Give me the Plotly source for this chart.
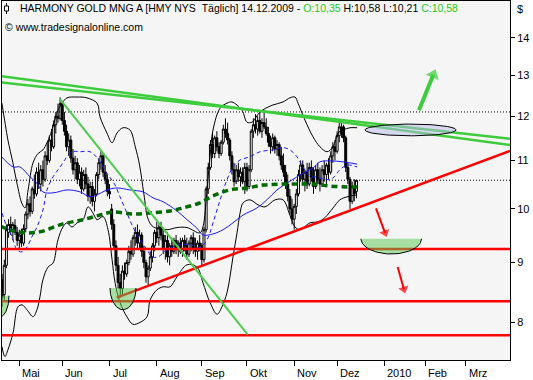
import numpy as np
import plotly.graph_objects as go

# ---------------- data (trading-day index, 0 = 1 May 2009) ----------------
day = list(range(-8, 158))

opn = [8.70, 8.45, 8.95, 9.55, 9.70, 9.60, 9.68, 9.55, 9.40, 9.50,
       9.35, 9.62, 9.90, 10.10, 9.95, 10.40, 10.30, 10.75, 10.50, 10.80,
       10.60, 11.10, 11.00, 11.45, 11.30, 11.80, 12.00, 11.95, 12.30, 11.90,
       11.65, 11.30, 11.45, 11.05, 10.80, 10.95, 10.60, 10.75, 10.40, 10.70,
       10.50, 10.25, 10.45, 10.15, 10.30, 10.70, 10.95, 11.10, 10.75, 10.60,
       10.35, 10.00, 9.70, 9.30, 8.95, 8.65, 8.55, 8.85, 8.80, 9.00,
       9.20, 9.15, 9.45, 9.55, 9.35, 9.50, 9.20, 9.00, 8.75, 8.90,
       9.10, 9.30, 9.55, 9.45, 9.65, 9.50, 9.25, 9.40, 9.10, 9.30,
       9.20, 9.40, 9.25, 9.35, 9.20, 9.40, 9.30, 9.15, 9.35, 9.45,
       9.25, 9.20, 9.35, 9.30, 9.05, 9.60, 10.40, 10.85, 11.35, 11.15,
       11.50, 11.30, 11.15, 11.40, 11.70, 11.60, 11.45, 11.10, 10.80, 10.55,
       10.80, 10.65, 10.75, 10.55, 10.85, 10.45, 10.80, 11.65, 11.80, 11.70,
       11.90, 11.65, 11.85, 11.75, 11.60, 11.40, 11.30, 11.50, 11.25, 11.35,
       11.10, 10.90, 10.75, 10.50, 10.25, 10.00, 9.80, 10.05, 10.30, 10.70,
       10.90, 10.60, 10.75, 10.50, 10.85, 10.65, 10.45, 10.80, 10.60, 10.50,
       10.80, 10.70, 10.90, 10.75, 11.10, 11.30, 11.20, 11.55, 11.75, 11.75,
       11.50, 10.85, 10.60, 10.15, 10.45, 10.35]

high = [8.80, 9.05, 9.70, 9.80, 9.85, 9.75, 9.80, 9.65, 9.60, 9.62,
        9.70, 9.95, 10.20, 10.25, 10.45, 10.70, 10.85, 10.95, 10.90, 11.00,
        11.20, 11.40, 11.55, 11.70, 11.90, 12.10, 12.30, 12.45, 12.35, 12.10,
        11.80, 11.60, 11.55, 11.25, 11.10, 11.05, 10.90, 10.85, 10.80, 10.85,
        10.65, 10.55, 10.55, 10.40, 10.75, 11.05, 11.20, 11.15, 10.90, 10.70,
        10.50, 10.10, 9.80, 9.40, 9.10, 8.80, 8.95, 9.00, 9.05, 9.30,
        9.40, 9.50, 9.65, 9.70, 9.60, 9.55, 9.30, 9.05, 8.95, 9.20,
        9.35, 9.60, 9.75, 9.70, 9.75, 9.60, 9.50, 9.55, 9.35, 9.45,
        9.45, 9.50, 9.40, 9.45, 9.45, 9.50, 9.45, 9.40, 9.50, 9.55,
        9.45, 9.40, 9.50, 9.35, 9.65, 10.45, 10.95, 11.45, 11.60, 11.55,
        11.65, 11.40, 11.45, 11.80, 11.95, 11.85, 11.50, 11.20, 10.95, 10.90,
        10.95, 10.85, 10.85, 10.95, 10.95, 10.90, 11.70, 11.95, 12.05, 12.00,
        12.10, 11.95, 12.10, 11.95, 11.75, 11.55, 11.60, 11.55, 11.45, 11.40,
        11.30, 11.15, 10.90, 10.70, 10.40, 10.20, 10.10, 10.40, 10.80, 11.00,
        11.00, 10.80, 10.95, 10.95, 11.00, 10.85, 10.90, 10.95, 10.85, 10.90,
        11.00, 10.95, 11.05, 11.20, 11.40, 11.45, 11.65, 11.85, 11.90, 11.80,
        11.55, 10.95, 10.65, 10.55, 10.60, 10.58]

low = [8.25, 8.35, 8.90, 9.45, 9.50, 9.40, 9.50, 9.30, 9.25, 9.28,
       9.30, 9.55, 9.80, 9.85, 9.90, 10.20, 10.25, 10.40, 10.35, 10.45,
       10.55, 10.90, 10.95, 11.20, 11.25, 11.60, 11.85, 11.90, 11.80, 11.55,
       11.20, 11.10, 10.95, 10.70, 10.60, 10.50, 10.45, 10.30, 10.35, 10.40,
       10.15, 10.10, 10.05, 9.95, 10.25, 10.60, 10.80, 10.65, 10.50, 10.25,
       10.20, 9.60, 9.25, 8.85, 8.55, 8.40, 8.45, 8.70, 8.75, 8.95,
       9.05, 9.10, 9.30, 9.25, 9.25, 9.10, 8.90, 8.65, 8.60, 8.85,
       9.00, 9.20, 9.35, 9.30, 9.40, 9.15, 9.05, 9.00, 8.95, 9.10,
       9.15, 9.15, 9.10, 9.15, 9.10, 9.20, 9.05, 9.10, 9.20, 9.15,
       9.10, 9.05, 9.20, 8.95, 9.00, 9.55, 10.30, 10.80, 11.05, 11.05,
       11.20, 11.05, 11.10, 11.35, 11.50, 11.35, 11.00, 10.70, 10.45, 10.50,
       10.55, 10.45, 10.50, 10.30, 10.35, 10.40, 10.75, 11.50, 11.60, 11.55,
       11.60, 11.50, 11.70, 11.55, 11.30, 11.15, 11.20, 11.15, 11.10, 11.00,
       10.80, 10.65, 10.40, 10.15, 9.90, 9.70, 9.60, 9.90, 10.25, 10.55,
       10.50, 10.35, 10.40, 10.45, 10.55, 10.30, 10.40, 10.50, 10.35, 10.45,
       10.55, 10.50, 10.60, 10.70, 10.95, 11.00, 11.15, 11.40, 11.50, 11.40,
       10.75, 10.50, 10.00, 10.10, 10.15, 10.21]

close = [8.40, 8.95, 9.60, 9.70, 9.58, 9.70, 9.55, 9.40, 9.50, 9.35,
         9.62, 9.90, 10.10, 9.95, 10.40, 10.30, 10.75, 10.50, 10.80, 10.60,
         11.10, 11.00, 11.45, 11.30, 11.80, 12.00, 11.95, 12.30, 11.90, 11.65,
         11.30, 11.45, 11.05, 10.80, 10.95, 10.60, 10.75, 10.40, 10.70, 10.50,
         10.25, 10.45, 10.15, 10.30, 10.70, 10.95, 11.10, 10.75, 10.60, 10.35,
         10.30, 9.70, 9.30, 8.95, 8.65, 8.55, 8.85, 8.80, 9.00, 9.20,
         9.15, 9.45, 9.55, 9.35, 9.50, 9.20, 9.00, 8.75, 8.90, 9.10,
         9.30, 9.55, 9.45, 9.65, 9.50, 9.25, 9.40, 9.10, 9.30, 9.20,
         9.40, 9.25, 9.35, 9.20, 9.40, 9.30, 9.15, 9.35, 9.45, 9.25,
         9.20, 9.35, 9.30, 9.05, 9.60, 10.40, 10.85, 11.35, 11.15, 11.50,
         11.30, 11.15, 11.40, 11.70, 11.60, 11.45, 11.10, 10.80, 10.55, 10.80,
         10.65, 10.75, 10.55, 10.85, 10.45, 10.80, 11.65, 11.80, 11.70, 11.90,
         11.65, 11.85, 11.75, 11.60, 11.40, 11.30, 11.50, 11.25, 11.35, 11.10,
         10.90, 10.75, 10.50, 10.25, 10.00, 9.80, 10.05, 10.30, 10.70, 10.90,
         10.60, 10.75, 10.50, 10.85, 10.65, 10.45, 10.80, 10.60, 10.50, 10.80,
         10.70, 10.90, 10.75, 11.10, 11.30, 11.20, 11.55, 11.75, 11.60, 11.50,
         10.85, 10.60, 10.15, 10.45, 10.30, 10.58]

# Bollinger bands
bb_up_x = [-8.1, -6.5, -5.3, -3.0, -1.1, 1.3, 2.7, 4.1, 6.4, 8.7, 11.0, 13.0, 15.2, 18.0, 19.9,
           22.2, 26.9, 31.5, 36.2, 37.6, 40.8, 43.2, 45.5, 48.3, 51.5, 54.0, 56.0, 58.0, 60.0,
           62.5, 68.8, 73.4, 78.1, 84.1, 85.5, 87.4, 88.8, 90.2, 93.5, 96.7, 99.0, 103.7, 106.0,
           108.4, 112.1, 117.7, 122.8, 126.0, 128.4, 129.8, 133.0, 136.8, 140.0, 143.3, 146.1,
           148.4, 150.7, 154.0, 157.3]
bb_up_y = [12.31, 11.80, 11.45, 10.95, 10.52, 10.10, 10.02, 10.38, 10.95, 11.15, 11.23, 11.40, 11.68,
           12.14, 12.31, 12.44, 12.46, 12.44, 12.31, 11.98, 11.61, 11.39, 11.61, 11.73, 11.68, 11.30,
           10.90, 10.30, 9.80, 9.65, 9.60, 9.64, 9.64, 9.54, 9.65, 10.38, 11.08, 11.68, 12.19, 12.31,
           12.34, 12.14, 11.86, 11.86, 12.10, 12.26, 12.34, 12.44, 12.46, 12.31, 11.91, 11.52, 11.30,
           11.19, 11.30, 11.61, 11.68, 11.73, 11.73]
bb_lo_x = [-8.1, -6.7, -5.3, -2.9, -0.6, 1.3, 3.6, 6.4, 8.2, 9.6, 11.0, 13.4, 15.7, 18.0, 20.3,
           22.2, 24.5, 26.9, 29.7, 32.0, 34.3, 36.2, 39.0, 41.3, 43.2, 44.6, 46.9, 50.1, 52.9,
           56.2, 59.5, 60.9, 64.1, 67.0, 70.2, 73.4, 78.1, 82.7, 85.5, 88.8, 92.1, 94.4, 96.7,
           98.1, 99.5, 101.4, 102.8, 104.2, 107.4, 111.2, 114.4, 119.1, 122.8, 126.0, 128.4,
           130.7, 135.4, 139.1, 142.3, 146.1, 149.3, 152.6, 157.3]
bb_lo_y = [7.63, 7.48, 7.58, 7.84, 8.25, 8.28, 8.20, 8.09, 8.20, 8.41, 8.70, 8.92, 8.99, 9.41, 9.65,
           9.73, 9.65, 9.73, 9.79, 10.04, 9.92, 9.79, 9.85, 9.60, 9.05, 8.65, 8.32, 8.09, 7.97,
           8.00, 8.09, 8.36, 8.53, 8.58, 8.58, 8.75, 8.96, 8.92, 8.65, 8.32, 8.13, 8.25, 8.48,
           8.75, 9.10, 9.54, 9.92, 10.12, 10.18, 10.08, 10.04, 10.18, 10.18, 9.88, 9.65,
           9.60, 9.73, 9.75, 9.83, 10.02, 10.18, 10.24, 10.28]

# moving averages
ma_slow_x = [-9.0, -2.9, 0.3, 5.0, 8.2, 11.0, 15.7, 22.2, 28.3, 32.9, 36.2, 40.8, 45.5, 51.5, 57.6,
             62.3, 67.0, 73.4, 78.1, 82.7, 85.5, 90.2, 94.9, 99.5, 104.2, 110.7, 115.3, 120.0,
             124.6, 129.3, 132.1, 136.8, 140.0, 144.7, 150.7, 157.3]
ma_slow_y = [11.12, 10.86, 10.86, 10.65, 10.52, 10.34, 10.32, 10.38, 10.34, 10.24, 10.28, 10.38,
             10.42, 10.38, 10.34, 10.22, 10.14, 9.96, 9.79, 9.63, 9.50, 9.52, 9.60, 9.73, 9.88,
             10.02, 10.18, 10.38, 10.52, 10.65, 10.73, 10.84, 10.97, 10.99, 10.97, 10.92]
ma_fast_x = [-8.1, -5.7, -3.4, -1.1, 1.3, 3.6, 5.9, 8.2, 11.0, 12.9, 15.7, 19.0, 22.2, 24.5, 28.3,
             32.9, 36.2, 37.6, 40.8, 44.6, 46.9, 50.1, 52.9, 56.2, 59.5, 61.8, 64.6, 68.8, 74.8,
             79.5, 84.1, 87.4, 90.2, 93.5, 96.7, 99.5, 102.8, 107.4, 112.1, 118.1, 122.8, 126.0,
             129.3, 132.1, 135.4, 138.6, 143.3, 146.1, 149.3, 152.6, 157.3]
ma_fast_y = [9.92, 9.65, 9.47, 9.23, 9.19, 9.28, 9.47, 9.65, 9.98, 10.38, 10.65, 10.86, 11.08,
             11.19, 11.19, 11.19, 11.06, 10.97, 10.73, 10.48, 10.24, 9.92, 9.65, 9.41, 9.23, 9.10,
             9.10, 9.23, 9.32, 9.32, 9.27, 9.41, 9.73, 10.18, 10.59, 10.86, 11.01, 11.08, 11.19,
             11.23, 11.28, 11.23, 11.08, 10.86, 10.65, 10.65, 10.59, 10.63, 10.80, 10.90, 10.86]
ma_long_x = [-9.0, 0.3, 9.6, 20.3, 29.7, 37.6, 43.6, 52.9, 60.9, 70.2, 76.2, 84.1, 90.2, 98.1,
             106.0, 113.5, 121.4, 129.3, 136.8, 144.7, 152.6, 157.3]
ma_long_y = [9.67, 9.55, 9.56, 9.71, 9.79, 9.88, 9.94, 9.90, 9.92, 9.96, 10.02, 10.12, 10.26, 10.38,
             10.42, 10.48, 10.50, 10.50, 10.50, 10.46, 10.44, 10.44]

# axes
month_pos = [0, 20, 42, 64, 85, 106, 128, 148, 170, 189, 208]
month_lab = ["Mai", "Jun", "Jul", "Aug", "Sep", "Okt", "Nov", "Dez", "2010", "Feb", "Mrz"]
price_ticks = [8, 9, 10, 11, 12, 13, 14]
x_range = [-8.06, 228.5]
y_range = [7.43, 15.05]

# drawn analysis objects
support_levels = [9.24, 8.34, 7.80]
dotted_levels = [12.10, 10.58]
resist_a_x, resist_a_y = [-9.0, 228.5], [12.99, 11.34]
resist_b_x, resist_b_y = [-9.0, 228.5], [12.83, 11.48]
fall_x, fall_y = [18.95, 106.35], [12.41, 7.81]
rise_x, rise_y = [45.35, 228.5], [8.40, 11.21]
arrow_up_x, arrow_up_y = [186.1, 192.8], [12.14, 13.02]
arrow_d1_x, arrow_d1_y = [166.1, 170.3], [10.01, 9.54]
arrow_d2_x, arrow_d2_y = [176.2, 179.1], [8.92, 8.54]
ellipse_c = (182.2, 11.68)
ellipse_r = (21.2, 0.0050)
bowl_cx = [173.2, 48.3, -9.0]
bowl_top = [9.43, 8.56, 8.43]
bowl_hw = [14.1, 6.05, 4.2]
bowl_depth = [0.0130, 0.0185, 0.0179]

FONT = "Liberation Sans, Arial, sans-serif"

fig = go.Figure()

fig.add_trace(go.Candlestick(
    x=day, open=opn, high=high, low=low, close=close,
    increasing=dict(line=dict(color="black", width=1), fillcolor="white"),
    decreasing=dict(line=dict(color="black", width=1), fillcolor="black"),
    whiskerwidth=0, hoverinfo="skip", showlegend=False))

def line(x, y, color, width, dash="solid", **kw):
    fig.add_trace(go.Scatter(x=x, y=y, mode="lines", hoverinfo="skip", showlegend=False,
                             line=dict(color=color, width=width, dash=dash), **kw))

line(bb_up_x, bb_up_y, "black", 1, line_shape="spline")
line(bb_lo_x, bb_lo_y, "black", 1, line_shape="spline")
line(ma_slow_x, ma_slow_y, "#1a1aff", 1, line_shape="spline")
line(ma_fast_x, ma_fast_y, "#1a1aff", 1, "4px,3px", line_shape="spline")
line(ma_long_x, ma_long_y, "#006a00", 3.5, "6px,4px", line_shape="spline")

for lv in dotted_levels:
    line(x_range, [lv, lv], "black", 1, "1px,2px")
for lv in support_levels:
    line(x_range, [lv, lv], "#ff0000", 2.5)
line(rise_x, rise_y, "#ff0000", 2.5)
line(resist_a_x, resist_a_y, "#3ccc3c", 2.5)
line(resist_b_x, resist_b_y, "#3ccc3c", 2.5)
line(fall_x, fall_y, "#4ccc4c", 2)

# bowls
for cx, top, hw, dp in zip(bowl_cx, bowl_top, bowl_hw, bowl_depth):
    t = np.linspace(0, np.pi, 50)
    xs = cx + hw * np.cos(t)
    ys = 10 ** (np.log10(top) - dp * np.sin(t))
    fig.add_trace(go.Scatter(x=xs, y=ys, mode="lines", fill="toself",
                             fillcolor="rgba(90,200,80,0.5)", line=dict(width=0),
                             hoverinfo="skip", showlegend=False))
    line(xs, ys, "black", 1)

# ellipse
t = np.linspace(0, 2 * np.pi, 90)
ex = ellipse_c[0] + ellipse_r[0] * np.cos(t)
ey = 10 ** (np.log10(ellipse_c[1]) + ellipse_r[1] * np.sin(t))
fig.add_trace(go.Scatter(x=ex, y=ey, mode="lines", fill="toself",
                         fillcolor="rgba(185,185,235,0.5)", line=dict(color="black", width=1),
                         hoverinfo="skip", showlegend=False))

# arrows
for ax_, ay_, col, w, sz in [(arrow_up_x, arrow_up_y, "#3ccc3c", 4, 12),
                             (arrow_d1_x, arrow_d1_y, "#ff0000", 2, 9),
                             (arrow_d2_x, arrow_d2_y, "#ff0000", 2, 9)]:
    fig.add_trace(go.Scatter(x=ax_, y=ay_, mode="lines+markers", hoverinfo="skip", showlegend=False,
                             line=dict(color=col, width=w),
                             marker=dict(symbol=["circle", "triangle-up"], size=[0, sz],
                                         color=col, angleref="previous",
                                         line=dict(width=0))))

annotations = []
for p, lab in zip(month_pos, month_lab):
    annotations.append(dict(x=p, xref="x", xshift=1, y=0, yref="paper", yshift=-13,
                            text=lab, showarrow=False, xanchor="left", yanchor="middle",
                            font=dict(family=FONT, size=11, color="black")))
G = "#22cc22"
title = ("HARMONY GOLD MNG A [HMY NYS \u00a0Täglich] 14.12.2009 - "
         f"<span style='color:{G}'>O:10,35</span> H:10,58 L:10,21 "
         f"<span style='color:{G}'>C:10,58</span>")
annotations.append(dict(x=(18 - 2) / 508, xref="paper", y=(360 - 8) / 359, yref="paper",
                        text=title, showarrow=False, xanchor="left", yanchor="middle",
                        font=dict(family=FONT, size=10.5, color="black")))
annotations.append(dict(x=(3 - 2) / 508, xref="paper", y=(360 - 27) / 359, yref="paper",
                        text="© www.tradesignalonline.com", showarrow=False,
                        xanchor="left", yanchor="middle",
                        font=dict(family=FONT, size=10.5, color="black")))
annotations.append(dict(x=(515 - 2) / 508, xref="paper", y=(360 - 9) / 359, yref="paper",
                        text="$", showarrow=False, xanchor="left", yanchor="middle",
                        font=dict(family=FONT, size=11, color="black")))

def px(xp):
    return (xp - 2) / 508

def py(yp):
    return (360 - yp) / 359

shapes = [
    dict(type="line", xref="paper", yref="paper", x0=px(6.5), x1=px(6.5), y0=py(3), y1=py(14),
         line=dict(color="black", width=1)),
    dict(type="rect", xref="paper", yref="paper", x0=px(4.5), x1=px(8.5), y0=py(6), y1=py(11),
         line=dict(color="black", width=1), fillcolor="white"),
]

fig.update_layout(
    width=533, height=380,
    margin=dict(l=2, r=23, t=1, b=20),
    paper_bgcolor="white", plot_bgcolor="#f5f5f5",
    showlegend=False, hovermode=False,
    boxgap=0.05, boxgroupgap=0.05,
    annotations=annotations, shapes=shapes,
    font=dict(family=FONT, size=11, color="black"),
    xaxis=dict(range=x_range, showgrid=False, zeroline=False, showline=True, mirror=True,
               linecolor="black", linewidth=1, ticks="outside", ticklen=5, tickcolor="black",
               tickvals=month_pos, showticklabels=False, rangeslider=dict(visible=False),
               fixedrange=True),
    yaxis=dict(type="log", range=[np.log10(y_range[0]), np.log10(y_range[1])], side="right",
               showgrid=False, zeroline=False, showline=True, mirror=True, linecolor="black",
               linewidth=1, ticks="outside", ticklen=4, tickcolor="black",
               tickvals=price_ticks, ticktext=[str(v) for v in price_ticks],
               tickfont=dict(family=FONT, size=11, color="black"), fixedrange=True),
)

fig.write_html("out.html", config={"displayModeBar": False})

# remove the default page margin so the figure sits at the window's top-left corner
with open("out.html", encoding="utf-8") as f:
    page = f.read()
page = page.replace("<head>", "<head><style>html,body{margin:0;padding:0;overflow:hidden;}</style>", 1)
with open("out.html", "w", encoding="utf-8") as f:
    f.write(page)
